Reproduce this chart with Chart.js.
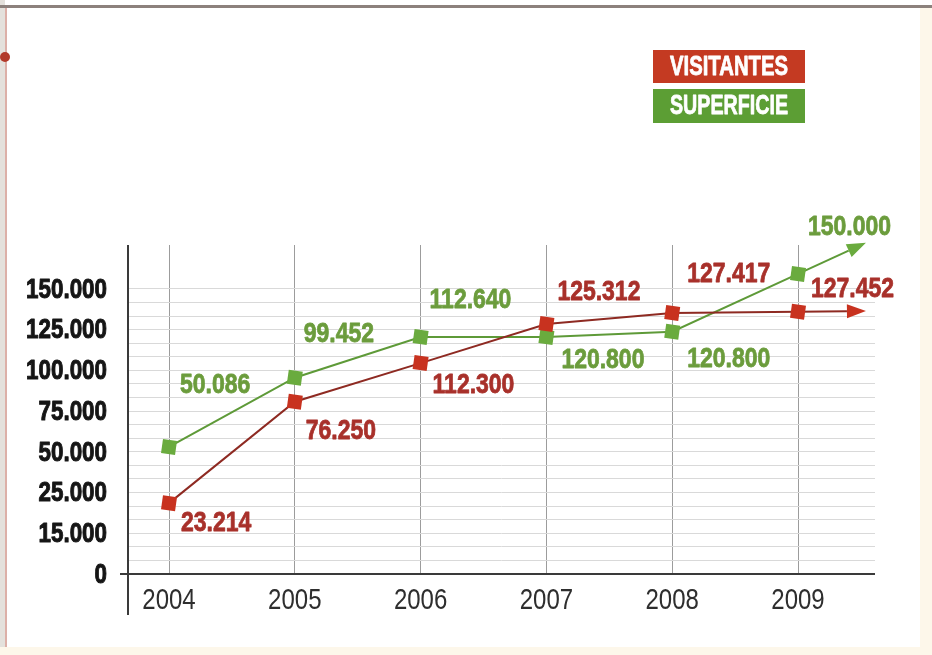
<!DOCTYPE html>
<html>
<head>
<meta charset="utf-8">
<title>Visitantes y superficie 2004-2009</title>
<script src="https://cdn.jsdelivr.net/npm/chart.js@4/dist/chart.umd.min.js"></script>
<style>
  html, body { margin: 0; padding: 0; background: #ffffff; }
  #wrap { width: 932px; height: 655px; position: relative; }
</style>
</head>
<body>
<div id="wrap"><canvas id="chart" width="932" height="655"></canvas></div>
<script>
// --- data ---
const years = [2004, 2005, 2006, 2007, 2008, 2009];

// y axis: labels are evenly spaced although their values are not
const yTickValues = [0, 15000, 25000, 50000, 75000, 100000, 125000, 150000];
const yTickLabels = ['0', '15.000', '25.000', '50.000', '75.000', '100.000', '125.000', '150.000'];

// where the marks sit against that axis
const visitantes = [22400, 80750, 104500, 128500, 135250, 136000];
const superficie = [53000, 95500, 120500, 120500, 123750, 159250];

// printed values next to the marks
const visitantesLabels = ['23.214', '76.250', '112.300', '125.312', '127.417', '127.452'];
const superficieLabels = ['50.086', '99.452', '112.640', '120.800', '120.800', '150.000'];

const legendNames = ['VISITANTES', 'SUPERFICIE'];

// label placement relative to each point (px)
const visitantesOffsets = [[12, 20], [11, 30], [12, 22], [11, -32], [15, -39], [13, -22]];
const superficieOffsets = [[11, -62], [9, -43], [9, -37], [15, 23], [15, 28], [10, -47]];

const RED = '#c8321f', RED_LINE = '#8e2a22', RED_TEXT = '#a8302a';
const GREEN = '#6aab3e', GREEN_LINE = '#5e9a38', GREEN_TEXT = '#6b9c3c';
const FONT = '"Liberation Sans", Arial, sans-serif';

// piecewise mapping from a value to its position on the evenly spaced axis
function toAxis(v) {
  const t = yTickValues;
  for (let i = 0; i < t.length - 1; i++) {
    if (v <= t[i + 1]) return i + (v - t[i]) / (t[i + 1] - t[i]);
  }
  const n = t.length - 1;
  return n + (v - t[n]) / (t[n] - t[n - 1]);
}

const pts = arr => arr.map((v, i) => ({ x: years[i], y: toAxis(v) }));

// condensed text: squeeze a normal font horizontally, optional stroke for a heavier look
function narrowText(ctx, text, x, y, align, sx, heavy) {
  ctx.save();
  ctx.translate(x, y);
  ctx.scale(sx, 1);
  ctx.textAlign = align;
  ctx.textBaseline = 'middle';
  if (heavy) {
    ctx.strokeStyle = ctx.fillStyle;
    ctx.lineWidth = heavy;
    ctx.lineJoin = 'round';
    ctx.strokeText(text, 0, 0);
  }
  ctx.fillText(text, 0, 0);
  ctx.restore();
}

// page frame, like the scanned page edge
const framePlugin = {
  id: 'frame',
  beforeDraw(chart) {
    const ctx = chart.ctx;
    ctx.save();
    ctx.fillStyle = '#ffffff';
    ctx.fillRect(0, 0, chart.width, chart.height);
    ctx.fillStyle = '#e4e1dc';
    ctx.fillRect(0, 0, 5, chart.height);
    ctx.fillStyle = '#dcb0a8';
    ctx.fillRect(5, 8, 2, chart.height);
    ctx.fillStyle = '#8c817c';
    ctx.fillRect(0, 5, chart.width, 3);
    ctx.fillStyle = '#fdf7ea';
    ctx.fillRect(920, 8, chart.width - 920, chart.height);
    ctx.fillRect(0, 647, chart.width, 8);
    ctx.fillStyle = '#b23a2a';
    ctx.beginPath();
    ctx.arc(5, 57, 5, 0, Math.PI * 2);
    ctx.fill();
    ctx.restore();
  }
};

// axis lines (y line runs past the x axis) and tick labels
const axisPlugin = {
  id: 'axisLines',
  beforeDatasetsDraw(chart) {
    const { ctx, chartArea } = chart;
    const xs = chart.scales.x, ys = chart.scales.y;
    ctx.save();
    ctx.strokeStyle = '#3a3a3a';
    ctx.lineWidth = 2;
    ctx.beginPath();
    ctx.moveTo(chartArea.left, chartArea.top);
    ctx.lineTo(chartArea.left, chartArea.bottom + 41);
    ctx.moveTo(chartArea.left - 8, chartArea.bottom);
    ctx.lineTo(chartArea.right, chartArea.bottom);
    ctx.stroke();

    ctx.fillStyle = '#151515';
    ctx.font = 'bold 28px ' + FONT;
    yTickLabels.forEach((lab, i) => {
      narrowText(ctx, lab, chartArea.left - 21, ys.getPixelForValue(i) + 1, 'right', 0.8, 1);
    });
    ctx.fillStyle = '#2e2e2e';
    ctx.font = '30px ' + FONT;
    years.forEach(y => {
      narrowText(ctx, String(y), xs.getPixelForValue(y), chartArea.bottom + 27, 'center', 0.8);
    });
    ctx.restore();
  }
};

// each line runs on past 2009 and ends in an arrowhead
const arrowPlugin = {
  id: 'arrows',
  beforeDatasetsDraw(chart) {
    const ctx = chart.ctx;
    const xs = chart.scales.x;
    chart.data.datasets.forEach((ds, di) => {
      const meta = chart.getDatasetMeta(di);
      const n = meta.data.length;
      const p1 = meta.data[n - 2], p2 = meta.data[n - 1];
      const ext = xs.getPixelForValue(years[n - 1] + 0.54) - p2.x;
      const dx = p2.x - p1.x, dy = p2.y - p1.y;
      const tip = { x: p2.x + ext, y: p2.y + dy / dx * ext };
      const len = Math.hypot(tip.x - p2.x, tip.y - p2.y);
      const ux = (tip.x - p2.x) / len, uy = (tip.y - p2.y) / len;
      const headL = 19, headW = 7;
      const base = { x: tip.x - ux * headL, y: tip.y - uy * headL };
      ctx.save();
      ctx.strokeStyle = ds.borderColor;
      ctx.lineWidth = ds.borderWidth;
      ctx.beginPath();
      ctx.moveTo(p2.x, p2.y);
      ctx.lineTo(base.x, base.y);
      ctx.stroke();
      ctx.fillStyle = ds.pointBackgroundColor;
      ctx.beginPath();
      ctx.moveTo(tip.x, tip.y);
      ctx.lineTo(base.x - uy * headW, base.y + ux * headW);
      ctx.lineTo(base.x + uy * headW, base.y - ux * headW);
      ctx.closePath();
      ctx.fill();
      ctx.restore();
    });
  }
};

// printed values
const valueLabelPlugin = {
  id: 'valueLabels',
  afterDatasetsDraw(chart) {
    const ctx = chart.ctx;
    ctx.save();
    ctx.font = 'bold 28px ' + FONT;
    chart.data.datasets.forEach((ds, di) => {
      const meta = chart.getDatasetMeta(di);
      ctx.fillStyle = ds.labelColor;
      meta.data.forEach((p, i) => {
        const off = ds.labelOffsets[i];
        narrowText(ctx, ds.valueLabels[i], p.x + off[0], p.y + off[1], 'left', 0.82, 0.8);
      });
    });
    ctx.restore();
  }
};

// legend boxes, top right
const legendPlugin = {
  id: 'boxLegend',
  afterDraw(chart) {
    const ctx = chart.ctx;
    const boxes = [[653, 50, 152, 33], [653, 89, 152, 34]];
    ctx.save();
    chart.data.datasets.forEach((ds, di) => {
      const [x, y, w, h] = boxes[di];
      ctx.fillStyle = ds.legendColor;
      ctx.fillRect(x, y, w, h);
      ctx.font = 'bold 27px ' + FONT;
      ctx.fillStyle = '#ffffff';
      const tw = ctx.measureText(legendNames[di]).width;
      narrowText(ctx, legendNames[di], x + w / 2, y + h / 2 + 1, 'center', Math.min(1, 118 / tw), 0.8);
    });
    ctx.restore();
  }
};

new Chart(document.getElementById('chart'), {
  type: 'line',
  data: {
    datasets: [
      {
        label: legendNames[0],
        data: pts(visitantes),
        borderColor: RED_LINE,
        borderWidth: 2,
        pointStyle: 'rect',
        pointRadius: 10,
        pointRotation: 8,
        pointBorderWidth: 0,
        pointBackgroundColor: RED,
        tension: 0,
        clip: false,
        valueLabels: visitantesLabels,
        labelOffsets: visitantesOffsets,
        labelColor: RED_TEXT,
        legendColor: '#c43a22'
      },
      {
        label: legendNames[1],
        data: pts(superficie),
        borderColor: GREEN_LINE,
        borderWidth: 2,
        pointStyle: 'rect',
        pointRadius: 10,
        pointRotation: 8,
        pointBorderWidth: 0,
        pointBackgroundColor: GREEN,
        tension: 0,
        clip: false,
        valueLabels: superficieLabels,
        labelOffsets: superficieOffsets,
        labelColor: GREEN_TEXT,
        legendColor: '#5c9e34'
      }
    ]
  },
  options: {
    responsive: false,
    animation: false,
    layout: { padding: { top: 245, right: 57, left: 0, bottom: 0 } },
    plugins: {
      legend: { display: false },
      tooltip: { enabled: false }
    },
    scales: {
      x: {
        type: 'linear',
        min: 2003.674,
        max: 2009.612,
        afterBuildTicks: s => { s.ticks = years.map(v => ({ value: v })); },
        afterFit: s => { s.height = 81; },
        ticks: { display: false },
        grid: { color: '#9c9c9c', lineWidth: 1, drawTicks: false },
        border: { display: false }
      },
      y: {
        type: 'linear',
        min: 0,
        max: 8.08,
        afterBuildTicks: s => {
          const t = [];
          for (let i = 0; i <= (yTickLabels.length - 1) * 3; i++) t.push({ value: i / 3 });
          s.ticks = t;
        },
        afterFit: s => { s.width = 128; },
        ticks: { display: false },
        grid: { color: '#d9d9d9', lineWidth: 1, drawTicks: false },
        border: { display: false }
      }
    }
  },
  plugins: [framePlugin, axisPlugin, arrowPlugin, valueLabelPlugin, legendPlugin]
});
</script>
</body>
</html>
